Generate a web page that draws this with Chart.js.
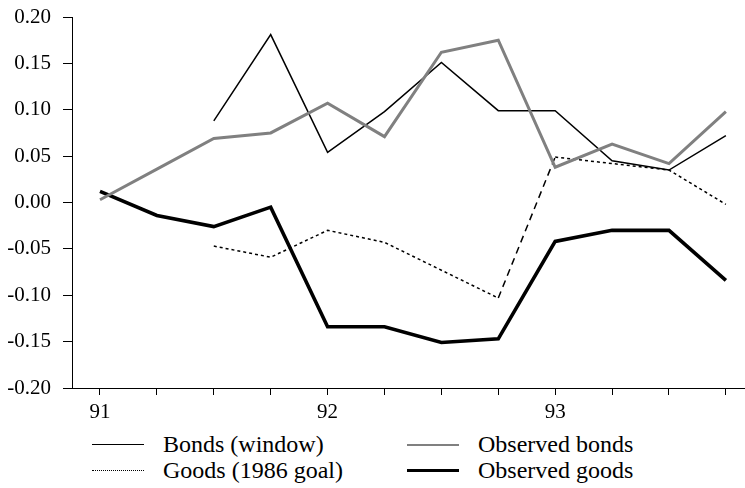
<!DOCTYPE html>
<html>
<head>
<meta charset="utf-8">
<script src="https://cdn.jsdelivr.net/npm/chart.js@4/dist/chart.umd.min.js"></script>
<style>
	body { margin: 0; background: #fff; }
	#wrap { position: relative; width: 745px; height: 488px; }
	#ratesChart { position: absolute; left: 0; top: 0; }
	.leg { position: absolute; display: flex; align-items: center; font-family: "Liberation Serif", serif; font-size: 24px; color: #000; white-space: nowrap; }
	.leg .swatch { width: 52px; margin-right: 19px; }
</style>
</head>
<body>
<div id="wrap">
	<canvas id="ratesChart" width="745" height="430"></canvas>
	<div id="legend"></div>
</div>
<script>
const quarters = [91, 91.25, 91.5, 91.75, 92, 92.25, 92.5, 92.75, 93, 93.25, 93.5, 93.75];
const yTicks = [-0.20, -0.15, -0.10, -0.05, 0.00, 0.05, 0.10, 0.15, 0.20];

const bondsWindow = [null, null, 0.088, 0.181, 0.054, 0.098, 0.151, 0.099, 0.099, 0.045, 0.035, 0.072];
const goodsGoal = [null, null, -0.047, -0.059, -0.030, -0.043, -0.073, -0.103, 0.049, 0.042, 0.035, -0.002];
const observedBonds = [0.003, 0.036, 0.069, 0.075, 0.107, 0.071, 0.162, 0.175, 0.038, 0.063, 0.042, 0.098];
const observedGoods = [0.012, -0.014, -0.026, -0.005, -0.134, -0.134, -0.151, -0.147, -0.042, -0.030, -0.030, -0.084];

// turn a series into {x,y} points, skipping the quarters without a value
function toPoints(vals) {
	return quarters.map((q, i) => ({ x: q, y: vals[i] })).filter(p => p.y !== null);
}

// the goods line jumps with a longer dash between 92.75 and 93
const goodsJumpIdx = toPoints(goodsGoal).findIndex(p => p.x === 92.75);

const datasets = [
	{
		label: 'Observed bonds',
		data: toPoints(observedBonds),
		borderColor: '#808080',
		borderWidth: 3,
		legendPos: { left: 407, top: 431 }
	},
	{
		label: 'Observed goods',
		data: toPoints(observedGoods),
		borderColor: '#000',
		borderWidth: 3.6,
		legendPos: { left: 407, top: 457 }
	},
	{
		label: 'Bonds (window)',
		data: toPoints(bondsWindow),
		borderColor: '#000',
		borderWidth: 1.5,
		legendPos: { left: 92, top: 431 }
	},
	{
		label: 'Goods (1986 goal)',
		data: toPoints(goodsGoal),
		borderColor: '#000',
		borderWidth: 1.5,
		borderDash: [3, 3],
		segment: {
			borderDash: c => c.p0DataIndex === goodsJumpIdx ? [7, 5] : undefined
		},
		legendPos: { left: 92, top: 457 }
	}
];

datasets.forEach(d => {
	d.pointRadius = 0;
	d.tension = 0;
	d.fill = false;
	d.borderJoinStyle = 'miter';
	d.spanGaps = false;
});

const ctx = document.getElementById('ratesChart').getContext('2d');

const myChart = new Chart(ctx, {
	type: 'line',
	data: { datasets: datasets },
	options: {
		responsive: false,
		animation: false,
		layout: { padding: { top: 17, right: 0, left: 0, bottom: 0 } },
		plugins: {
			legend: { display: false },
			tooltip: { enabled: false }
		},
		scales: {
			x: {
				type: 'linear',
				min: 90.877,
				max: 93.834,
				afterBuildTicks: s => { s.ticks = quarters.map(q => ({ value: q })); },
				afterFit: s => { s.height = 42; s.paddingLeft = 0; s.paddingRight = 0; },
				grid: { drawOnChartArea: false, drawTicks: true, tickLength: 7, color: '#000' },
				border: { display: true, color: '#000', width: 1 },
				ticks: {
					autoSkip: false,
					maxRotation: 0,
					padding: 5,
					color: '#000',
					font: { family: 'Liberation Serif', size: 21 },
					callback: v => Number.isInteger(v) ? String(v) : ''
				}
			},
			y: {
				min: -0.2,
				max: 0.2,
				afterBuildTicks: s => { s.ticks = yTicks.map(v => ({ value: v })); },
				afterFit: s => { s.width = 72; s.paddingTop = 0; s.paddingBottom = 0; },
				grid: { drawOnChartArea: false, drawTicks: true, tickLength: 9, color: '#000' },
				border: { display: true, color: '#000', width: 1 },
				ticks: {
					padding: 12,
					color: '#000',
					font: { family: 'Liberation Serif', size: 21 },
					callback: v => v.toFixed(2)
				}
			}
		}
	}
});

// legend in two columns below the chart
const legendBox = document.getElementById('legend');
datasets.forEach(d => {
	const item = document.createElement('div');
	item.className = 'leg';
	item.style.left = d.legendPos.left + 'px';
	item.style.top = d.legendPos.top + 'px';
	const sw = document.createElement('div');
	sw.className = 'swatch';
	const style = d.borderDash ? 'dotted' : 'solid';
	sw.style.borderTop = Math.max(1, Math.round(d.borderWidth * 0.8)) + 'px ' + style + ' ' + d.borderColor;
	const txt = document.createElement('span');
	txt.textContent = d.label;
	item.appendChild(sw);
	item.appendChild(txt);
	legendBox.appendChild(item);
});
</script>
</body>
</html>
